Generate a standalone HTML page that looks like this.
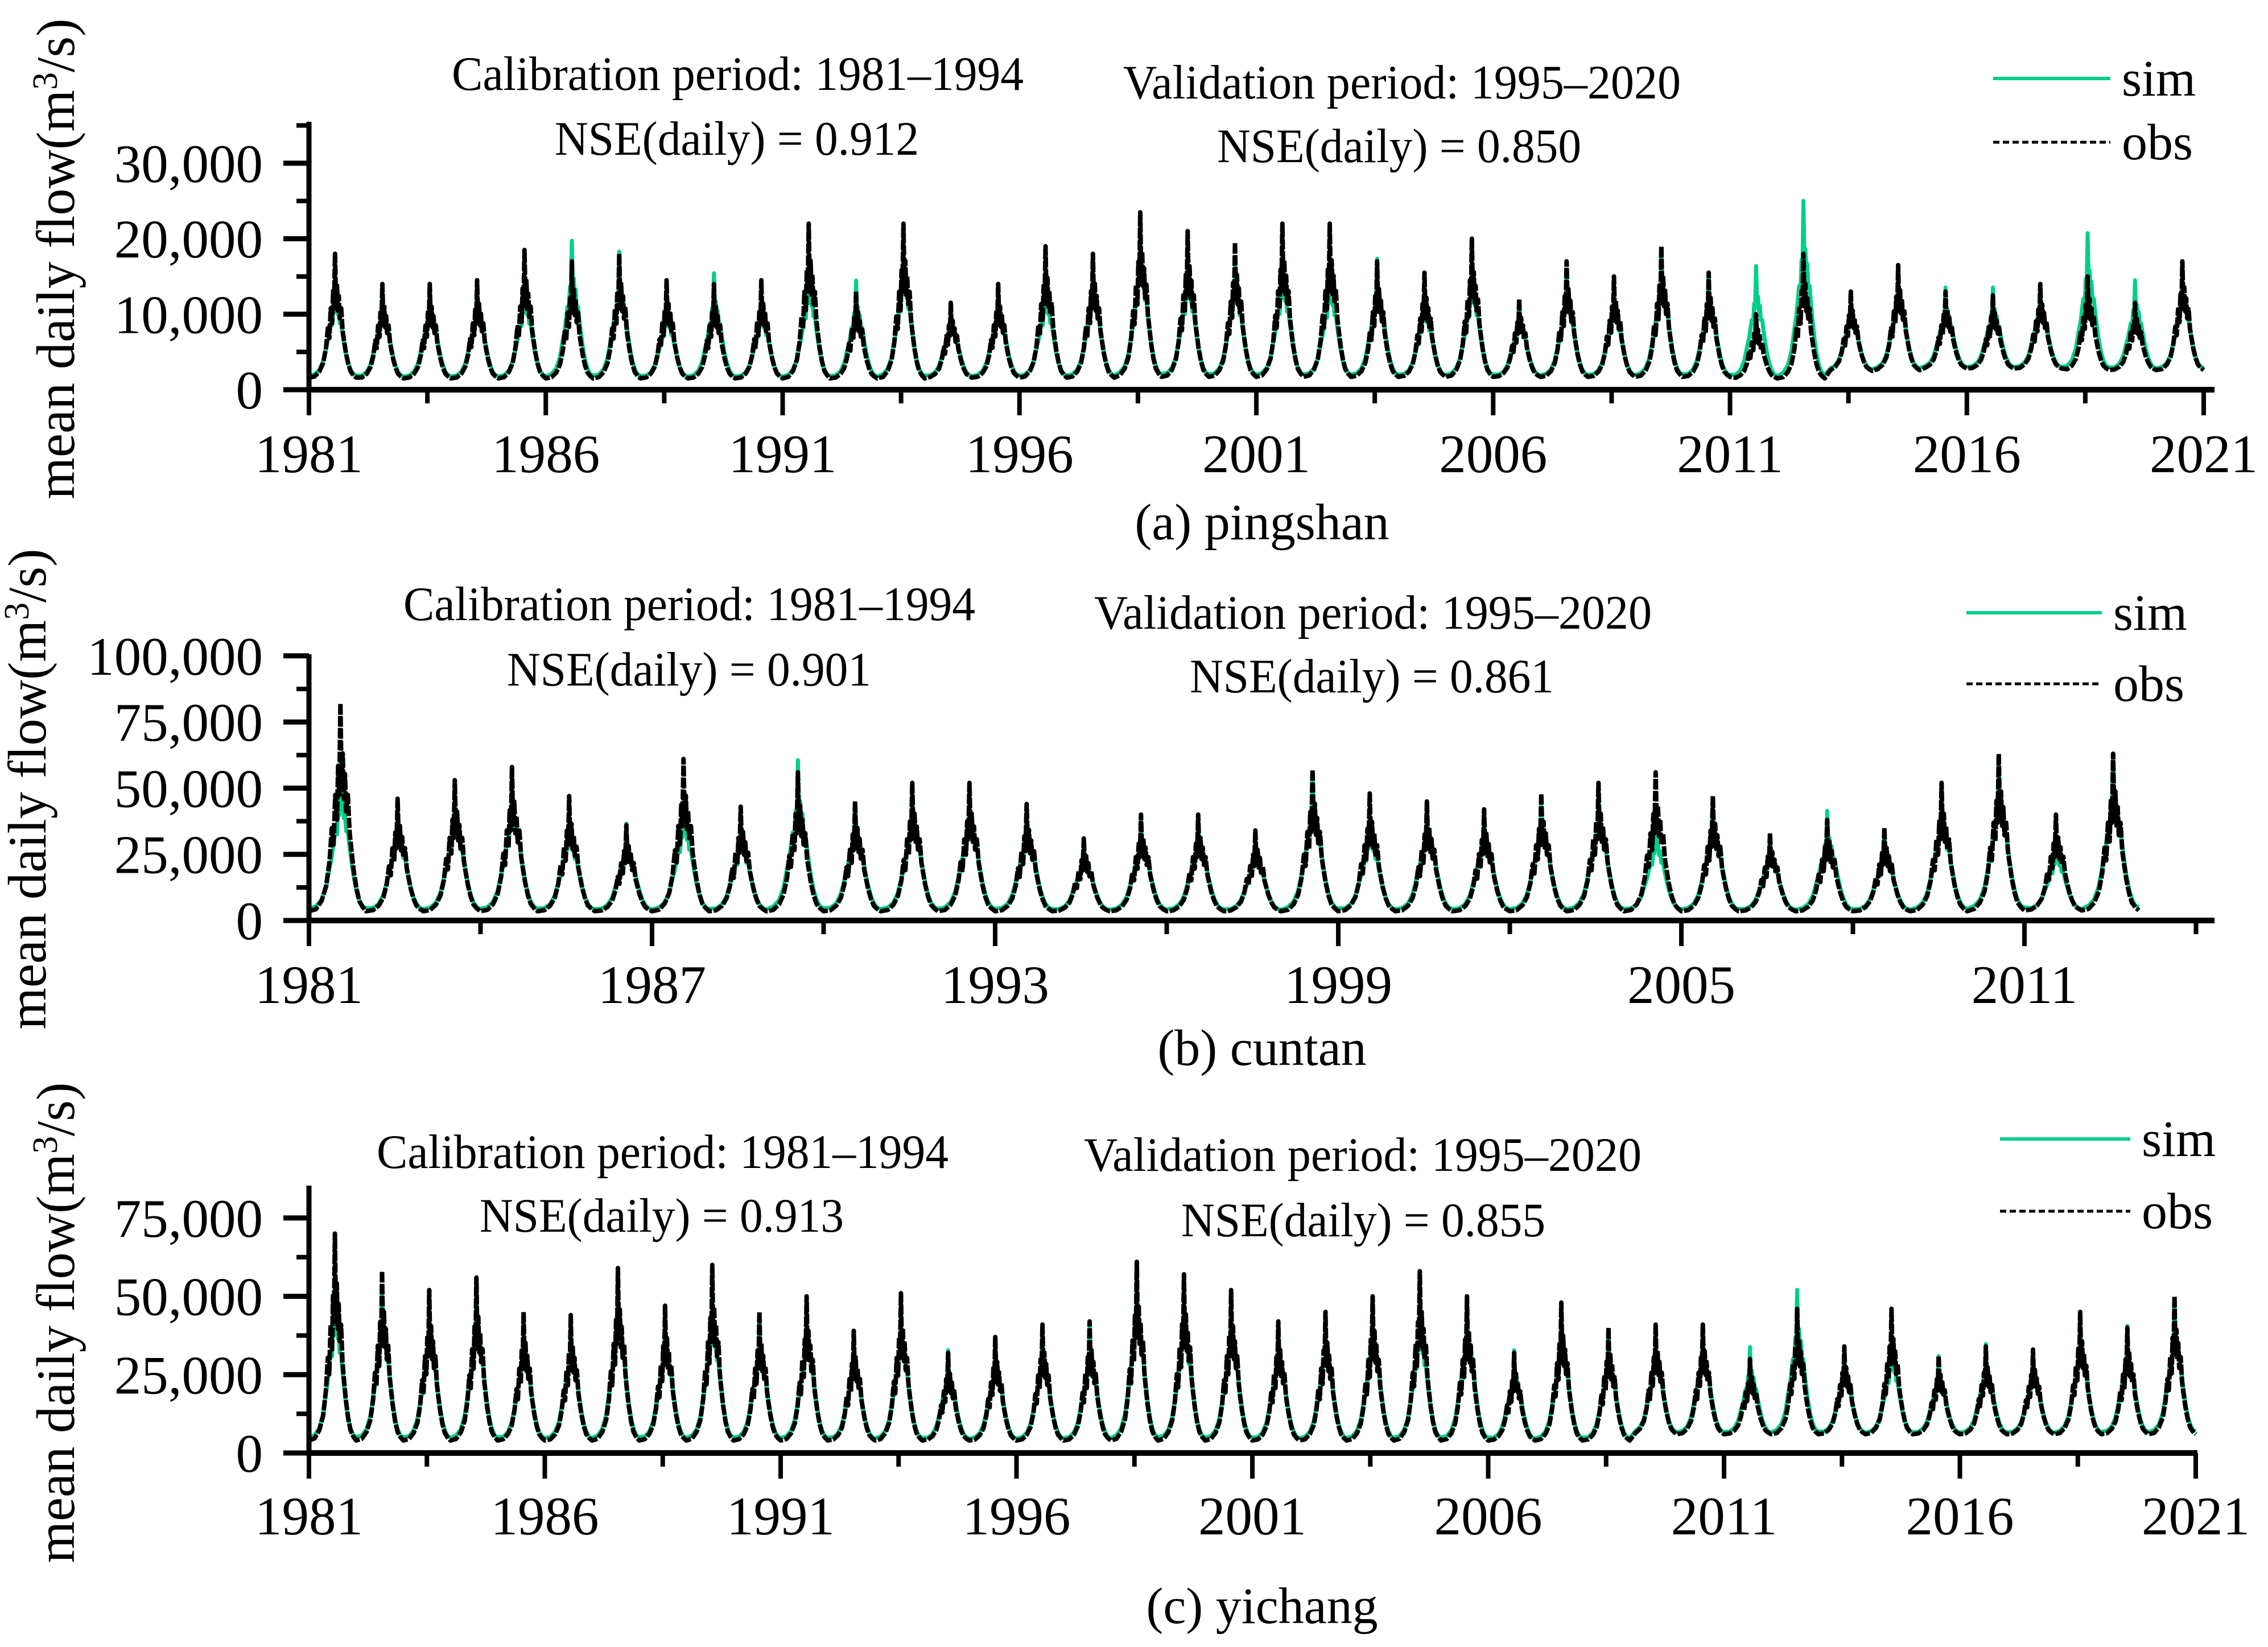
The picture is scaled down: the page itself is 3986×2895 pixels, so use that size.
<!DOCTYPE html>
<html><head><meta charset="utf-8">
<style>
html,body{margin:0;padding:0;background:#fff;}
svg{display:block;font-family:"Liberation Serif",serif;}
</style></head>
<body>
<svg id="chart" width="3986" height="2895" viewBox="0 0 3986 2895" xmlns="http://www.w3.org/2000/svg">
</svg>
<script>
// ---------- data (peak flows per year, thousands m3/s) ----------
const yearsA = [1981,1982,1983,1984,1985,1986,1987,1988,1989,1990,1991,1992,1993,1994,1995,1996,1997,1998,1999,2000,2001,2002,2003,2004,2005,2006,2007,2008,2009,2010,2011,2012,2013,2014,2015,2016,2017,2018,2019,2020];
const obsPeakA = [18,14,14,14.5,18.5,17,18,14.5,14,14.5,22,13,22,11.5,14,19,18,23.5,21,19.5,22,22,17,15.5,20,12,17,15,19,15.5,10,18,13,16.5,13,12.5,14,15,11.5,17];
const simPeakA = [16,14,14.5,14.5,16,20.5,19,13,16,13,18,15,20,12,14.5,16,17,22,19,18,19,18,18,14,18,12,16,14,19,16,17,26,12.5,16,14,14,14.5,21.5,15,16];
const baseA = [1.6,1.5,1.5,1.5,1.5,1.5,1.5,1.5,1.5,1.5,1.5,1.5,1.5,1.6,1.6,1.6,1.6,1.7,1.7,1.7,1.7,1.7,1.7,1.7,1.7,1.7,1.7,1.7,1.7,1.7,1.5,1.5,2.5,2.6,2.8,2.8,2.8,2.6,2.6,2.6];

const yearsB = [1981,1982,1983,1984,1985,1986,1987,1988,1989,1990,1991,1992,1993,1994,1995,1996,1997,1998,1999,2000,2001,2002,2003,2004,2005,2006,2007,2008,2009,2010,2011,2012];
const obsPeakB = [82,46,53,58,47,36,61,43,56,45,52,52,44,31,40,40,34,57,48,45,42,48,52,56,47,33,38,35,52,63,40,63];
const simPeakB = [64,44,50,55,43,38,50,40,63,46,50,52,45,31,40,41,32,56,43,46,43,46,50,40,46,33,43,34,50,62,33,65];
const baseB = [3.5,3.5,3.5,3.5,3.5,3.5,3.5,3.5,3.5,3.5,3.5,3.5,3.5,3.5,3.5,3.5,3.5,3.5,3.5,3.5,3.5,3.5,3.5,3.5,3.5,3.5,3.5,3.5,3.5,3.8,3.8,3.8];

const yearsC = [1981,1982,1983,1984,1985,1986,1987,1988,1989,1990,1991,1992,1993,1994,1995,1996,1997,1998,1999,2000,2001,2002,2003,2004,2005,2006,2007,2008,2009,2010,2011,2012,2013,2014,2015,2016,2017,2018,2019,2020];
const obsPeakC = [70,58,52,56,45,44,59,47,60,45,50,39,51,32,37,41,42,61,57,52,42,45,50,58,50,32,48,40,41,41,30,46,34,46,31,34,33,45,40,50];
const simPeakC = [60,55,50,56,43,44,58,46,55,45,48,38,48,34,37,40,42,60,53,50,42,44,49,52,51,34,47,40,39,42,35,54,33,40,32,36,32,44,42,51];
const baseC = [4,4,4,4,4,4,4,4,4,4,4,4,4,4,4,4,4,4,4,4,4,4,4,4,4,4,4,4,6,6,6,6,6,6,6,6,6,6,6,6];

// within-year hydrograph shape (fraction of year, fraction of peak above base)
const shapeT = [0,0.12,0.22,0.3,0.36,0.4,0.43,0.46,0.49,0.51,0.53,0.55,0.57,0.59,0.61,0.63,0.65,0.68,0.71,0.74,0.78,0.83,0.88,0.94,1];
const shapeObs = [0,0.01,0.05,0.12,0.24,0.4,0.32,0.56,0.44,0.7,0.56,1.0,0.6,0.76,0.54,0.66,0.48,0.56,0.38,0.3,0.2,0.11,0.05,0.02,0];
const shapeSim = [0.02,0.03,0.07,0.15,0.27,0.34,0.42,0.5,0.48,0.64,0.6,0.96,0.66,0.7,0.58,0.62,0.5,0.5,0.4,0.32,0.22,0.13,0.07,0.03,0.02];

const NS="http://www.w3.org/2000/svg";
const svg=document.getElementById('chart');
function mk(tag,attrs,parent){const e=document.createElementNS(NS,tag);for(const k in attrs)e.setAttribute(k,attrs[k]);(parent||svg).appendChild(e);return e;}
function txt(s,x,y,size,anchor,len,parent){const t=mk('text',{x:x,y:y,'font-size':size,'text-anchor':anchor||'start',fill:'#000'},parent);if(len){t.setAttribute('textLength',len);t.setAttribute('lengthAdjust','spacingAndGlyphs');}t.textContent=s;return t;}

function panel(cfg){
  const g=mk('g',{});
  
  
  const xS=yr=>cfg.x0+(yr-1981)*cfg.pxYr;
  const yS=v=>cfg.y0-v*cfg.pxPerK;
  function build(peaks,shape){
    let d='';
    for(let i=0;i<cfg.years.length;i++){
      const b=cfg.base[i], p=peaks[i];
      for(let j=0;j<shapeT.length;j++){
        if(i>0&&j==0)continue;
        const v=b+(p-b)*shape[j];
        d+=(d?'L':'M')+xS(cfg.years[i]+shapeT[j]).toFixed(1)+' '+yS(v).toFixed(1);
      }
    }
    return d;
  }
  const sim=mk('path',{d:build(cfg.sim,shapeSim),fill:'none',stroke:'#00cf8a','stroke-width':7,'stroke-linejoin':'round'},g);
  
  
  const obs=mk('path',{d:build(cfg.obs,shapeObs),fill:'none',stroke:'#000','stroke-width':8,'stroke-dasharray':'18 3','stroke-linejoin':'round'},g);
  
  
  const ax=mk('g',{},g);
  
  
  mk('line',{x1:cfg.x0,y1:cfg.y0+5,x2:cfg.x0,y2:cfg.yTop,stroke:'#000','stroke-width':9},ax);
  mk('line',{x1:cfg.x0-4,y1:cfg.y0,x2:cfg.xEnd,y2:cfg.y0,stroke:'#000','stroke-width':10},ax);
  cfg.yMajor.forEach((v,i)=>{
    const y=yS(v);
    mk('line',{x1:cfg.x0-45,y1:y,x2:cfg.x0,y2:y,stroke:'#000','stroke-width':9},ax);
    const t=txt(cfg.yLabels[i],462,y+33,95,'end',null,ax);
    
    
  });
  cfg.yMinor.forEach(v=>{const y=yS(v);mk('line',{x1:cfg.x0-22,y1:y,x2:cfg.x0,y2:y,stroke:'#000','stroke-width':8},ax);});
  cfg.xMajor.forEach(yr=>{
    const x=xS(yr);
    mk('line',{x1:x,y1:cfg.y0,x2:x,y2:cfg.y0+45,stroke:'#000','stroke-width':8},ax);
    const t=txt(String(yr),x,cfg.xLabY,95,'middle',null,ax);
    
    
  });
  cfg.xMinor.forEach(yr=>{const x=xS(yr);mk('line',{x1:x,y1:cfg.y0,x2:x,y2:cfg.y0+24,stroke:'#000','stroke-width':8},ax);});
  const yt=mk('text',{x:0,y:0,'font-size':95,'text-anchor':'middle',fill:'#000',transform:`translate(${cfg.ytX},${cfg.ytY}) rotate(-90)`,textLength:845,lengthAdjust:'spacingAndGlyphs'},g);
  yt.innerHTML='mean daily flow(m<tspan dy="-30" font-size="62">3</tspan><tspan dy="30">/s)</tspan>';
  
  
  let t=txt('Calibration period: 1981\u20131994',cfg.cal[0],cfg.cal[1],85,'start',1005,g);
  
  
  t=txt('NSE(daily)  = '+cfg.nse1,cfg.n1[0],cfg.n1[1],85,'start',640,g);
  
  
  t=txt('Validation period: 1995\u20132020',cfg.val[0],cfg.val[1],85,'start',980,g);
  
  
  t=txt('NSE(daily)  = '+cfg.nse2,cfg.n2[0],cfg.n2[1],85,'start',640,g);
  
  
  const lg=mk('g',{},g);
  
  
  const l1=mk('line',{x1:cfg.leg[0],y1:cfg.leg[1],x2:cfg.leg[0]+cfg.leg[2],y2:cfg.leg[1],stroke:'#00cf8a','stroke-width':6},lg);
  
  
  t=txt('sim',cfg.leg[0]+cfg.leg[2]+20,cfg.leg[1]+30,90,'start',null,lg);
  
  
  const l2=mk('line',{x1:cfg.leg[0],y1:cfg.leg[3],x2:cfg.leg[0]+cfg.leg[2],y2:cfg.leg[3],stroke:'#000','stroke-width':5,'stroke-dasharray':'11 6'},lg);
  
  
  t=txt('obs',cfg.leg[0]+cfg.leg[2]+20,cfg.leg[3]+30,90,'start',null,lg);
  
  
  t=txt(cfg.caption,2218,cfg.capY,90,'middle',null,g);
  
  
}

panel({name:'panel-a-pingshan',years:yearsA,obs:obsPeakA,sim:simPeakA,base:baseA,
  x0:543,pxYr:83.25,y0:685,pxPerK:13.27,yTop:214,xEnd:3892,
  yMajor:[0,10,20,30],yLabels:['0','10,000','20,000','30,000'],yMinor:[5,15,25,35],
  xMajor:[1981,1986,1991,1996,2001,2006,2011,2016,2021],xMinor:[1983.5,1988.5,1993.5,1998.5,2003.5,2008.5,2013.5,2018.5],
  xLabY:830,ytX:130,ytY:455,
  cal:[794,158],n1:[975,272],val:[1974,173],n2:[2139,285],nse1:'0.912',nse2:'0.850',
  leg:[3503,138,206,250],caption:'(a) pingshan',capY:948});

panel({name:'panel-b-cuntan',years:yearsB,obs:obsPeakB,sim:simPeakB,base:baseB,
  x0:543,pxYr:100.5,y0:1618,pxPerK:4.652,yTop:1150,xEnd:3892,
  yMajor:[0,25,50,75,100],yLabels:['0','25,000','50,000','75,000','100,000'],yMinor:[12.5,37.5,62.5,87.5],
  xMajor:[1981,1987,1993,1999,2005,2011],xMinor:[1984,1990,1996,2002,2008,2014],
  xLabY:1763,ytX:80,ytY:1387,
  cal:[709,1090],n1:[891,1205],val:[1923,1105],n2:[2091,1217],nse1:'0.901',nse2:'0.861',
  leg:[3456,1077,238,1202],caption:'(b) cuntan',capY:1872});

panel({name:'panel-c-yichang',years:yearsC,obs:obsPeakC,sim:simPeakC,base:baseC,
  x0:543,pxYr:82.9,y0:2554,pxPerK:5.508,yTop:2084,xEnd:3862,
  yMajor:[0,25,50,75],yLabels:['0','25,000','50,000','75,000'],yMinor:[12.5,37.5,62.5],
  xMajor:[1981,1986,1991,1996,2001,2006,2011,2016,2021],xMinor:[1983.5,1988.5,1993.5,1998.5,2003.5,2008.5,2013.5,2018.5],
  xLabY:2697,ytX:130,ytY:2325,
  cal:[662,2053],n1:[843,2165],val:[1905,2058],n2:[2076,2173],nse1:'0.913',nse2:'0.855',
  leg:[3515,2002,229,2129],caption:'(c) yichang',capY:2853});
</script>
</body></html>
